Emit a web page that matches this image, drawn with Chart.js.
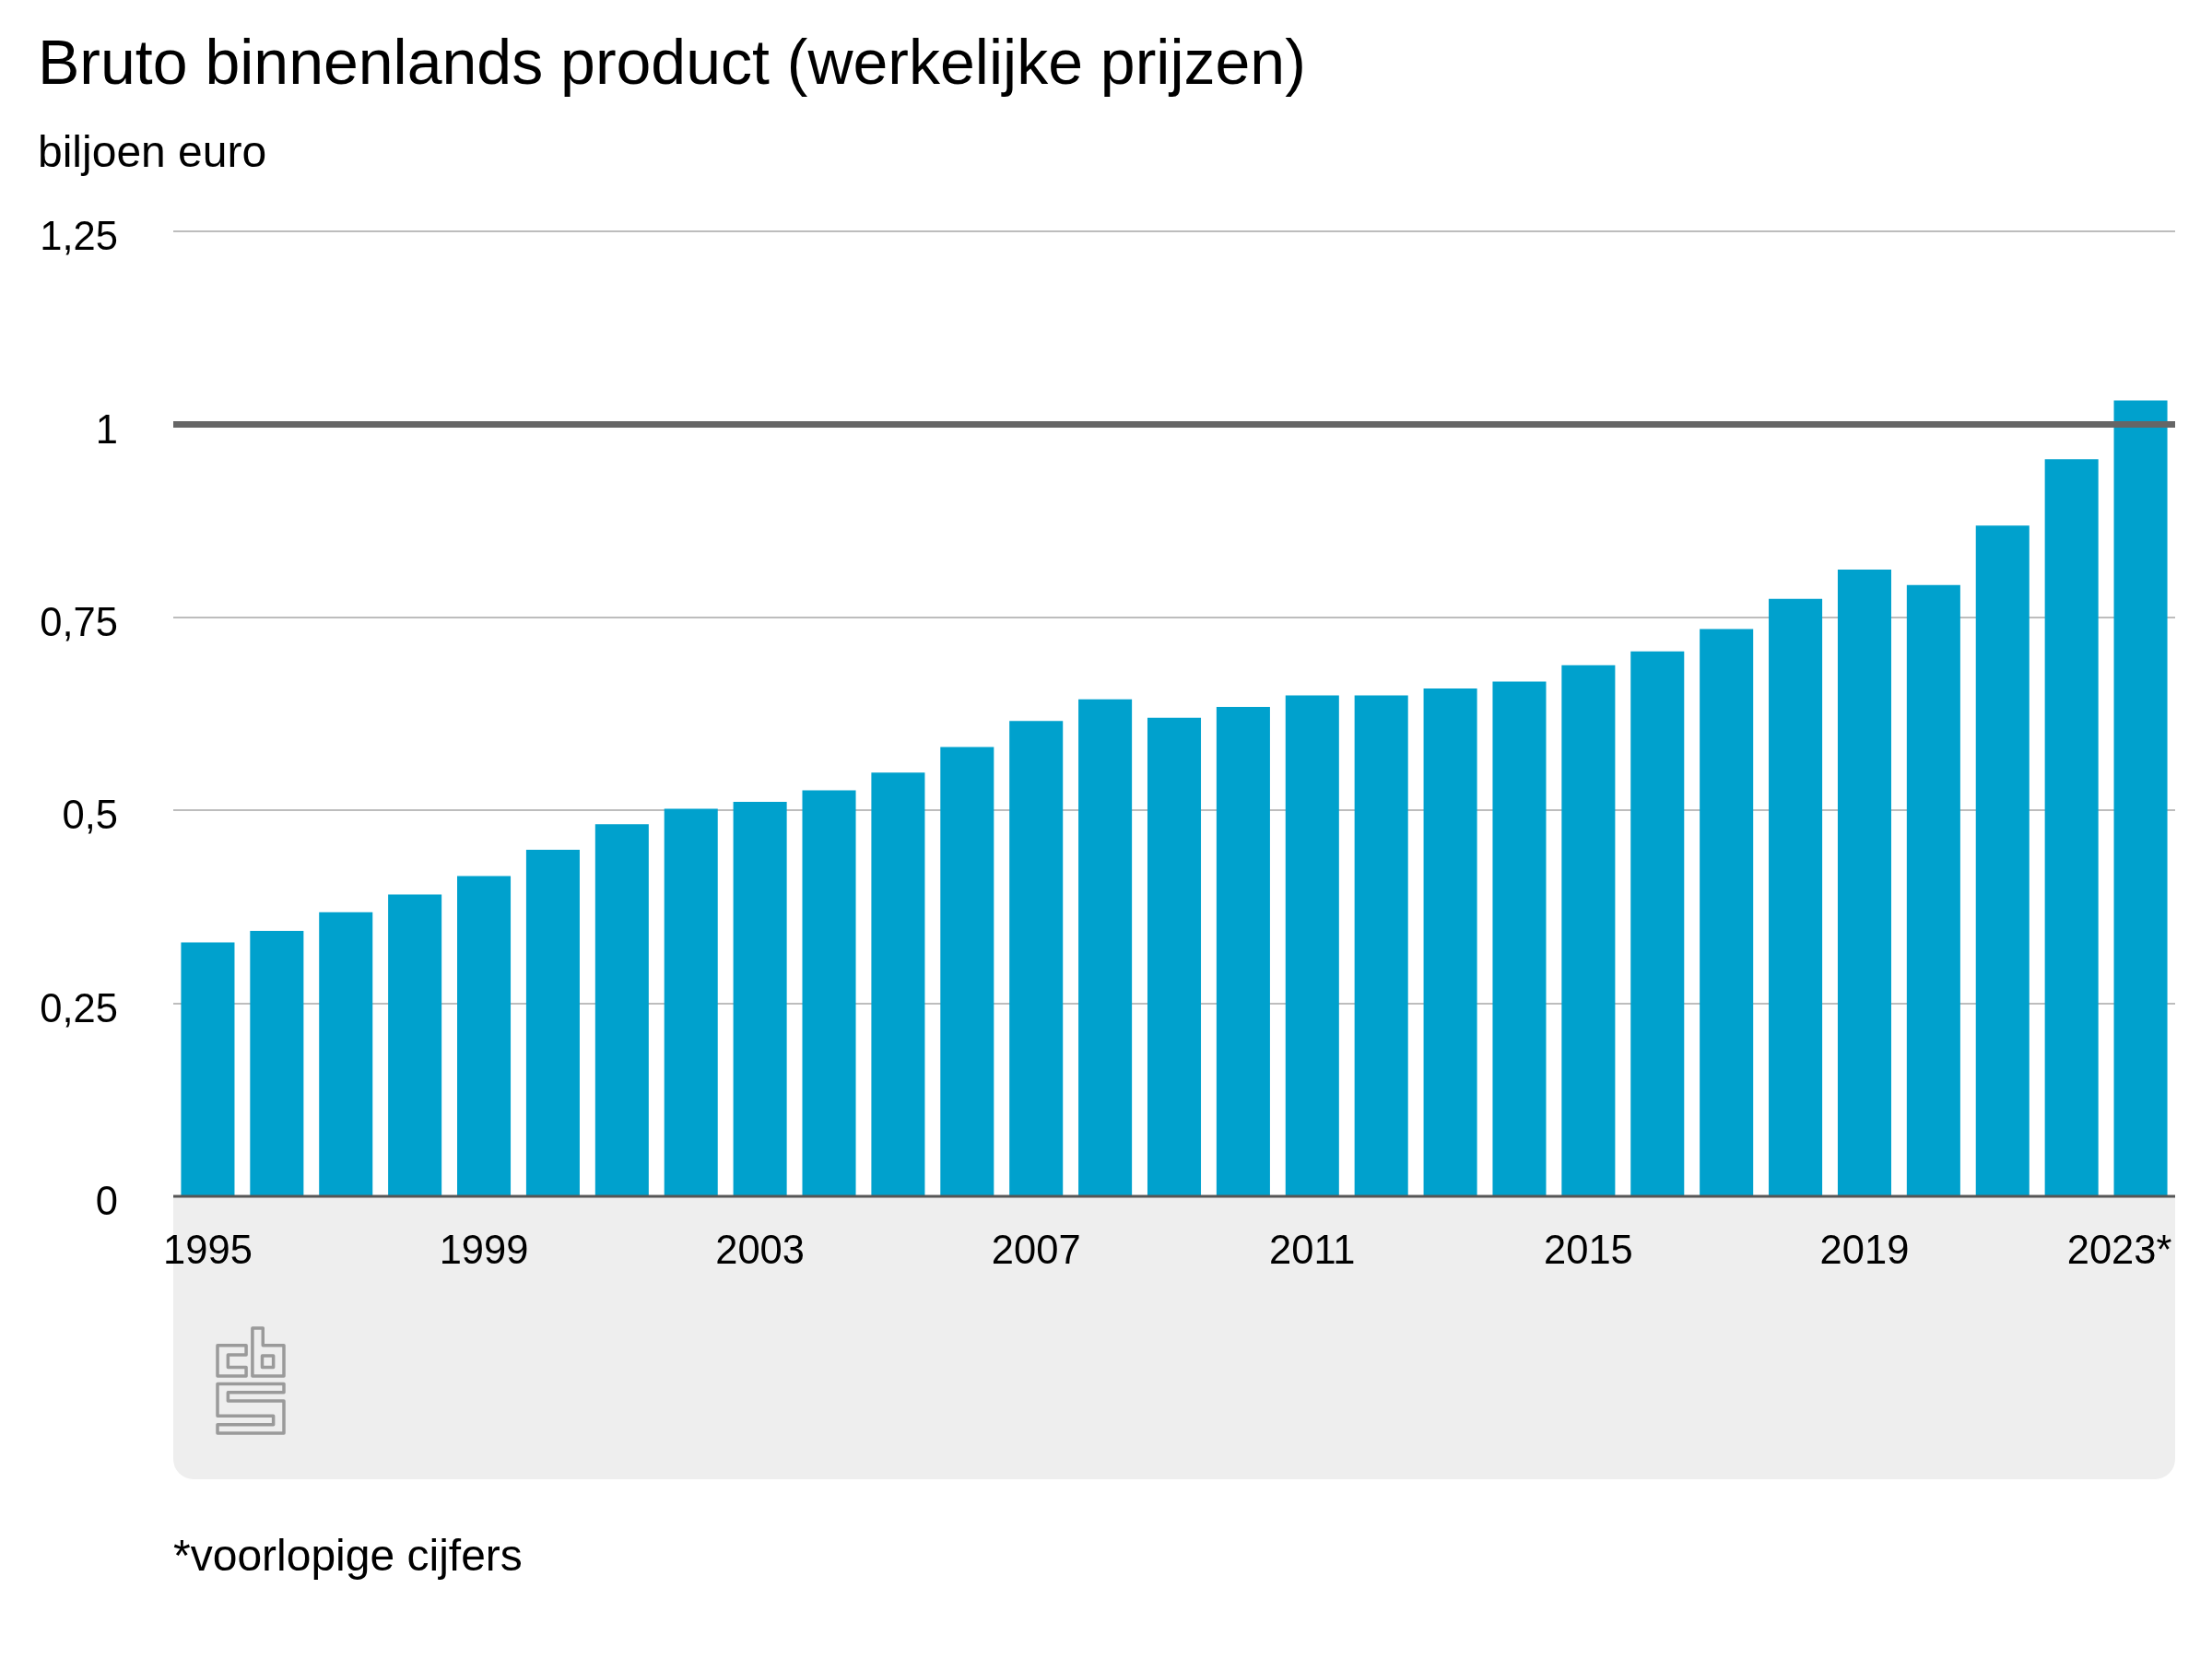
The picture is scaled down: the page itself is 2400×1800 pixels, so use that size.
<!DOCTYPE html>
<html><head><meta charset="utf-8">
<style>html,body{margin:0;padding:0;background:#fff}canvas{display:block}</style>
<script src="https://cdn.jsdelivr.net/npm/chart.js@4"></script>
</head><body>
<canvas id="c" width="2400" height="1800"></canvas>
<script>
const years = ['1995','1996','1997','1998','1999','2000','2001','2002','2003','2004','2005','2006','2007','2008','2009','2010','2011','2012','2013','2014','2015','2016','2017','2018','2019','2020','2021','2022','2023*'];
const bbp = [0.329,0.344,0.368,0.391,0.415,0.449,0.482,0.502,0.511,0.526,0.549,0.582,0.616,0.644,0.620,0.634,0.649,0.649,0.658,0.667,0.688,0.706,0.735,0.774,0.812,0.792,0.869,0.955,1.031];
const shownYears = ['1995','1999','2003','2007','2011','2015','2019','2023*'];
const titleText = 'Bruto binnenlands product (werkelijke prijzen)';
const unitText = 'biljoen euro';
const noteText = '*voorlopige cijfers';
const FONT = '"Liberation Sans", Arial, sans-serif';

const logoPaths = [
  [[0,55],[82,55],[82,85],[30,85],[30,125],[82,125],[82,153],[0,153]],
  [[100,0],[130,0],[130,55],[190,55],[190,153],[100,153]],
  [[128,88],[160,88],[160,125],[128,125]],
  [[0,178],[190,178],[190,205],[30,205],[30,232],[190,232],[190,335],[0,335],[0,308],[160,308],[160,280],[0,280]]
];

const deco = {
  id:'deco',
  beforeDraw(chart){
    const {ctx,chartArea:a,scales:{x,y}} = chart;
    ctx.save();
    ctx.fillStyle='#eeeeee';
    ctx.beginPath();
    ctx.roundRect(a.left,a.bottom,a.right-a.left,1605-a.bottom,[0,0,22,22]);
    ctx.fill();
    ctx.strokeStyle='#9a9a9a';ctx.lineWidth=3.5;ctx.lineJoin='round';
    const sx=72/190, sy=114/335, ox=236, oy=1441;
    logoPaths.forEach(p=>{ctx.beginPath();p.forEach((q,i)=>{const X=ox+q[0]*sx,Y=oy+q[1]*sy;i?ctx.lineTo(X,Y):ctx.moveTo(X,Y)});ctx.closePath();ctx.stroke();});
    ctx.fillStyle='#000';ctx.font='48px '+FONT;ctx.textAlign='left';ctx.textBaseline='alphabetic';
    ctx.fillText(noteText,a.left,1704);
    ctx.restore();
    x.getLabelItems().forEach(it=>{ if(it.label==='2023*') it.options.translation[0]-=23; });
    y.getLabelItems().forEach(it=>{ it.options.translation[1]+=8; });
  },
  afterDatasetsDraw(chart){
    const {ctx,chartArea:a,scales:{y}} = chart;
    ctx.save();
    ctx.strokeStyle='#666666';ctx.lineWidth=7;
    let p=y.getPixelForValue(1);
    ctx.beginPath();ctx.moveTo(a.left,p);ctx.lineTo(a.right,p);ctx.stroke();
    ctx.strokeStyle='#555555';ctx.lineWidth=3;
    p=y.getPixelForValue(0);
    ctx.beginPath();ctx.moveTo(a.left,p);ctx.lineTo(a.right,p);ctx.stroke();
    ctx.restore();
  }
};

new Chart(document.getElementById('c'),{
  type:'bar',
  data:{labels:years,datasets:[{data:bbp,backgroundColor:'#00a1cd',borderWidth:0,barPercentage:0.775,categoryPercentage:1}]},
  options:{
    responsive:false,animation:false,devicePixelRatio:1,
    layout:{padding:{left:41,right:40,top:31,bottom:0}},
    plugins:{
      legend:{display:false},tooltip:{enabled:false},
      title:{display:true,text:titleText,align:'start',color:'#000',font:{family:FONT,size:68,weight:'normal',lineHeight:1.2},padding:{top:0,bottom:26}},
      subtitle:{display:true,text:unitText,align:'start',color:'#000',font:{family:FONT,size:48,weight:'normal',lineHeight:1.2},padding:{top:0,bottom:55}}
    },
    scales:{
      x:{
        grid:{display:false,drawTicks:false},border:{display:false},
        afterFit(s){s.height=502;s.paddingLeft=0;s.paddingRight=0;},
        ticks:{autoSkip:false,maxRotation:0,minRotation:0,padding:35,color:'#000',font:{family:FONT,size:43.5},
          callback(v){const l=this.getLabelForValue(v);return shownYears.includes(l)?l:'';}}
      },
      y:{
        min:0,max:1.25,
        afterFit(s){s.width=147;},
        border:{display:false},
        grid:{color:'#bdbdbd',lineWidth:2,drawTicks:false},
        ticks:{stepSize:0.25,padding:60,color:'#000',font:{family:FONT,size:43.5},
          callback(v){return String(v).replace('.',',');}}
      }
    }
  },
  plugins:[deco]
});
</script>
</body></html>
